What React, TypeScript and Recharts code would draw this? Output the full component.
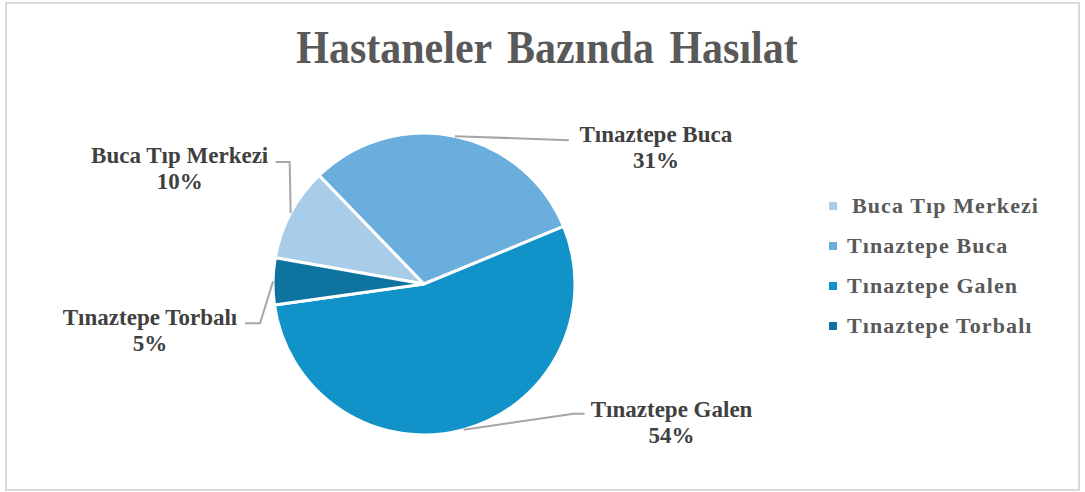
import React from 'react';
import { PieChart, Pie, Cell, Legend } from 'recharts';

const hospitals = ['Buca Tıp Merkezi', 'Tınaztepe Buca', 'Tınaztepe Galen', 'Tınaztepe Torbalı'];
const shares = [10, 31, 54, 5];
const sliceColors = ['#A9CCE8', '#69AEDC', '#1192C8', '#0E739E'];

const chartData = hospitals.map((name, i) => ({ name, value: shares[i] }));

// label baseline + leader bends, relative to the slice's outer edge point (placed by hand in the source)
const labelPlacement = [
  { dx: -111, dy: -50, leader: [[-1, -51], [-15, -51]] },
  { dx: 201, dy: 6, leader: [[114, 4]] },
  { dx: 208, dy: -13, leader: [[110, -16], [121, -16]] },
  { dx: -123, dy: 44, leader: [[-13, 42], [-28, 42]] },
];

const RAD = Math.PI / 180;
const FONT = '"Liberation Serif", "Times New Roman", serif';

const renderLabel = (props: any) => {
  const { cx, cy, midAngle, outerRadius, percent, index, name } = props;
  const ax = cx + outerRadius * Math.cos(-midAngle * RAD);
  const ay = cy + outerRadius * Math.sin(-midAngle * RAD);
  const p = labelPlacement[index];
  const pts = [[ax, ay], ...p.leader.map(([x, y]) => [ax + x, ay + y])];
  const lx = ax + p.dx;
  const ly = ay + p.dy;
  return (
    <g key={`lbl-${index}`}>
      <polyline
        points={pts.map((q) => q.join(',')).join(' ')}
        fill="none"
        stroke="#A6A6A6"
        strokeWidth={2}
      />
      <text
        x={lx}
        y={ly}
        textAnchor="middle"
        fontFamily={FONT}
        fontWeight="bold"
        fontSize={23}
        fill="#404040"
      >
        <tspan x={lx}>{name}</tspan>
        <tspan x={lx} dy={26}>{`${Math.round(percent * 100)}%`}</tspan>
      </text>
    </g>
  );
};

const renderLegend = () => (
  <div style={{ fontFamily: FONT, fontWeight: 'bold', fontSize: 22, color: '#595959' }}>
    {hospitals.map((h, i) => (
      <div key={h} style={{ display: 'flex', alignItems: 'center', height: 40 }}>
        <span
          style={{ width: 8, height: 8, background: sliceColors[i], marginRight: i === 0 ? 15 : 10 }}
        />
        <span style={{ letterSpacing: 1.1 }}>{h}</span>
      </div>
    ))}
  </div>
);

export default function App() {
  return (
    <div style={{ position: 'relative', width: 1085, height: 492, background: '#fff' }}>
      <style>{'body{margin:0}'}</style>
      <div
        style={{
          position: 'absolute',
          left: 5,
          top: 2,
          width: 1071,
          height: 485,
          border: '2px solid #D9D9D9',
        }}
      />
      <svg
        width={1085}
        height={100}
        style={{ position: 'absolute', left: 0, top: 0 }}
      >
        <text
          transform="translate(547,63) scale(1,1.08)"
          textAnchor="middle"
          fontFamily={FONT}
          fontWeight="bold"
          fontSize={42}
          fill="#595959"
          wordSpacing={5}
        >
          Hastaneler Bazında Hasılat
        </text>
      </svg>
      <div style={{ position: 'absolute', left: 0, top: 0 }}>
        <PieChart width={1085} height={492} margin={{ top: 0, right: 0, bottom: 0, left: 0 }}>
          <Pie
            data={chartData}
            dataKey="value"
            nameKey="name"
            cx={424}
            cy={284}
            outerRadius={151}
            startAngle={170}
            endAngle={-190}
            stroke="#FFFFFF"
            strokeWidth={3}
            label={renderLabel}
            labelLine={false}
            isAnimationActive={false}
          >
            {chartData.map((d, i) => (
              <Cell key={d.name} fill={sliceColors[i]} />
            ))}
          </Pie>
          <Legend
            content={renderLegend}
            layout="vertical"
            wrapperStyle={{ position: 'absolute', left: 829, top: 186, width: 250 }}
          />
        </PieChart>
      </div>
    </div>
  );
}
